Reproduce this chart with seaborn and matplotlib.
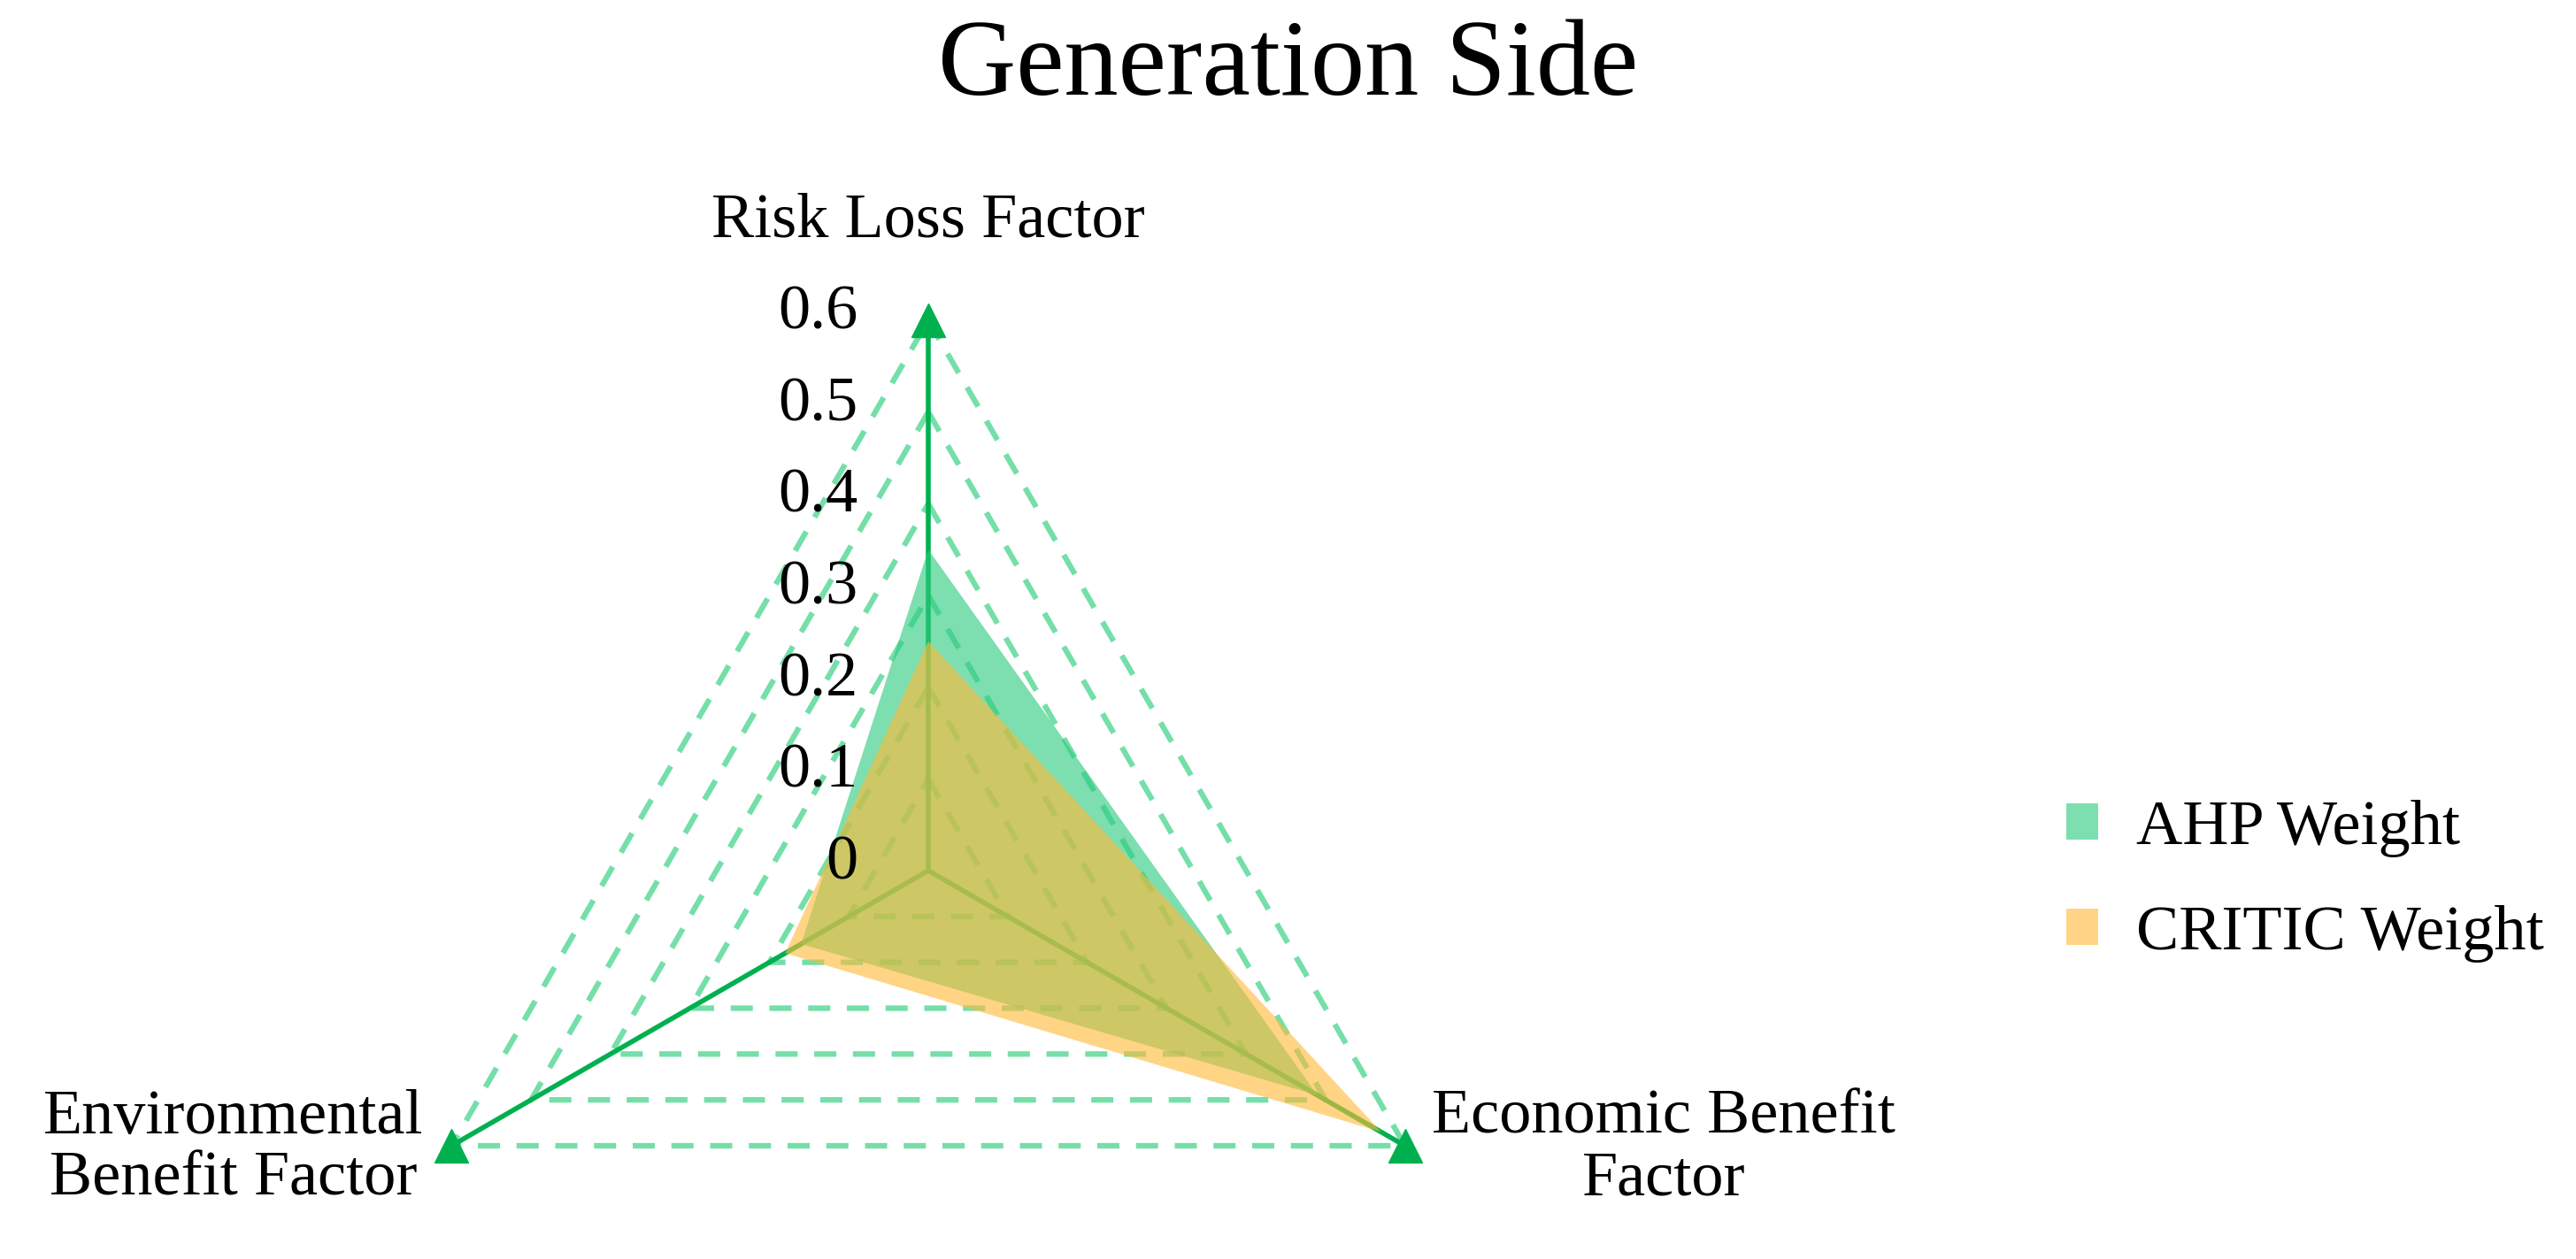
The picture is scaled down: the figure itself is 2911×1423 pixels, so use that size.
import numpy as np
import matplotlib
matplotlib.use("Agg")
import matplotlib.pyplot as plt
import seaborn as sns

factors = ["Risk Loss Factor", "Economic Benefit\nFactor", "Environmental\nBenefit Factor"]
ahp_weight = [0.35, 0.49, 0.16]
critic_weight = [0.25, 0.57, 0.18]
levels = [0.1, 0.2, 0.3, 0.4, 0.5, 0.6]
level_labels = ["0", "0.1", "0.2", "0.3", "0.4", "0.5", "0.6"]

sns.set_theme(style="white")
plt.rcParams["font.family"] = ["Liberation Serif", "DejaVu Serif"]
plt.rcParams["text.color"] = "black"

W, H = 2911, 1423
fig = plt.figure(figsize=(W / 100, H / 100), dpi=100)
ax = fig.add_axes([0, 0, 1, 1])
ax.set_xlim(0, W)
ax.set_ylim(0, H)
ax.set_aspect("equal")
ax.axis("off")

cx, cy = 1049, 439
scale = 622 / 0.6
angles = np.deg2rad([90, -30, 210])


def to_xy(vals):
    r = np.asarray(vals) * scale
    return cx + r * np.cos(angles), cy + r * np.sin(angles)


grid_col = "#74dfa8"
for lv in levels:
    x, y = to_xy([lv] * 3)
    ax.plot(np.append(x, x[0]), np.append(y, y[0]), ls=(0, (4, 3)), color=grid_col, lw=4.5, zorder=1)

x, y = to_xy([0.6] * 3)
for xi, yi in zip(x, y):
    ax.plot([cx, xi], [cy, yi], color="#00b04f", lw=4, zorder=2)
ax.plot(x, y, ls="none", marker="^", ms=28, color="#00b04f", zorder=5)

for vals, col, lab in [(ahp_weight, "#2ecb7e", "AHP Weight"), (critic_weight, "#ffba3a", "CRITIC Weight")]:
    px, py = to_xy(vals)
    ax.fill(px, py, color=col, alpha=0.62, lw=0, zorder=3, label=lab)

for i, lab in enumerate(level_labels):
    ax.text(cx - 80, cy + i * 0.1 * scale + 8, lab, ha="right", va="center", fontsize=52, zorder=6)

ax.text(cx, cy + 0.6 * scale + 80, factors[0], ha="center", va="bottom", fontsize=52)
ax.text(1880, 125, factors[1], ha="center", va="center", fontsize=52, linespacing=1.1)
ax.text(264, 125, factors[2], ha="center", va="center", fontsize=52, linespacing=1.1)

fig.suptitle("Generation Side", y=0.985, fontsize=88, va="top")

ax.legend(loc="center left", bbox_to_anchor=(2270 / W, 0.30), frameon=False, fontsize=52,
          handlelength=0.5, handleheight=0.5, labelspacing=0.75, handletextpad=0.6)

fig.savefig("out.png", dpi=100)
